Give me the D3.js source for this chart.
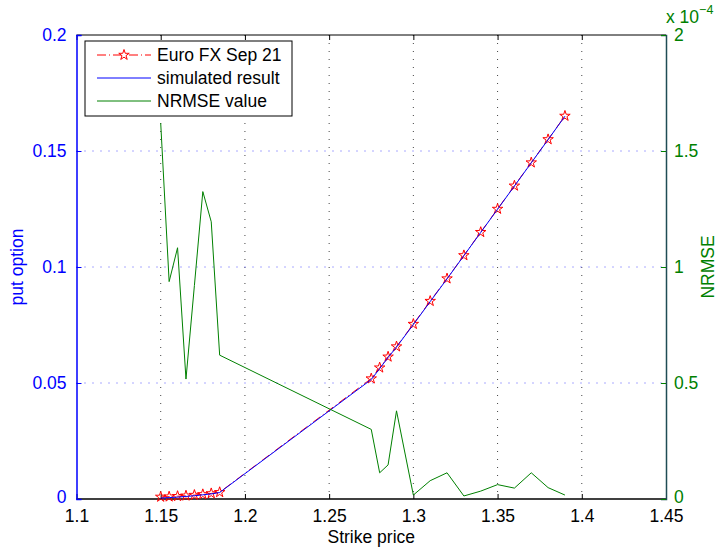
<!DOCTYPE html>
<html><head><meta charset="utf-8">
<script src="https://cdn.jsdelivr.net/npm/d3@7"></script>
<style>
body{margin:0;background:#fff;}
text{font-family:"Liberation Sans",Arial,Helvetica,sans-serif;}
</style></head>
<body><svg id="c" width="717" height="552"></svg>
<script>
// ---- data ----
const strikes   = [1.15,1.155,1.16,1.165,1.17,1.175,1.18,1.185,1.275,1.28,1.285,1.29,1.30,1.31,1.32,1.33,1.34,1.35,1.36,1.37,1.38,1.39];
const marketPut = [0.0009,0.0010,0.0012,0.0014,0.0017,0.0020,0.0024,0.0029,0.0519,0.0566,0.0613,0.0657,0.0754,0.0853,0.0950,0.1050,0.1150,0.1250,0.1350,0.1450,0.1550,0.1651];
const simPut    = [0.0004,0.0006,0.0008,0.0011,0.0014,0.0018,0.0022,0.0028,0.0515,0.0562,0.0610,0.0655,0.0752,0.0851,0.0949,0.1049,0.1149,0.1249,0.1349,0.1449,0.1549,0.1650];
const nrmse     = [1.62,0.937,1.083,0.517,0.92,1.325,1.195,0.62,0.30,0.113,0.147,0.38,0.017,0.079,0.113,0.013,0.034,0.062,0.047,0.113,0.049,0.017]; // x 1e-4
const xTicks  = [1.1,1.15,1.2,1.25,1.3,1.35,1.4,1.45];
const yTicks  = [0,0.05,0.1,0.15,0.2];
const y2Ticks = [0,0.5,1,1.5,2];
const legendLabels = ["Euro FX Sep 21","simulated result","NRMSE value"];

// ---- layout ----
const L=76.5,R=666,T=35,B=499;
const svg=d3.select("#c");
const x=d3.scaleLinear().domain([1.1,1.45]).range([L,R]);
const y=d3.scaleLinear().domain([0,0.2]).range([B,T]);
const y2=d3.scaleLinear().domain([0,2]).range([B,T]);
const FS=17.5;

// grid
const g=svg.append("g");
g.selectAll(".vg").data(xTicks.slice(1,-1)).join("line")
 .attr("x1",d=>x(d)).attr("x2",d=>x(d)).attr("y1",T).attr("y2",B)
 .attr("stroke","#444").attr("stroke-width",1).attr("stroke-dasharray","1,7");
g.selectAll(".hg").data(yTicks.slice(1,-1)).join("line")
 .attr("x1",L).attr("x2",R).attr("y1",d=>y(d)).attr("y2",d=>y(d))
 .attr("stroke","#5555ff").attr("stroke-width",1).attr("stroke-dasharray","1,7");

// box top / bottom
svg.append("line").attr("x1",L).attr("x2",R).attr("y1",T).attr("y2",T).attr("stroke","#000");
svg.append("line").attr("x1",L).attr("x2",R).attr("y1",B).attr("y2",B).attr("stroke","#000").attr("stroke-width",1.5);

// x axis (bottom)
const xa=svg.append("g").attr("transform",`translate(0,${B})`)
 .call(d3.axisBottom(x).tickValues(xTicks).tickSize(-5).tickPadding(11).tickFormat(d3.format("")));
xa.select(".domain").remove();
xa.selectAll("line").attr("stroke","#000");
xa.selectAll("text").attr("font-size",FS).attr("fill","#000").attr("font-family","Liberation Sans, Arial");
// top ticks
svg.append("g").attr("transform",`translate(0,${T})`)
 .call(d3.axisTop(x).tickValues(xTicks).tickSize(-5).tickFormat(""))
 .call(s=>{s.select(".domain").remove();s.selectAll("line").attr("stroke","#000");});

// left axis
const ya=svg.append("g").attr("transform",`translate(${L},0)`)
 .call(d3.axisLeft(y).tickValues(yTicks).tickSize(-5).tickPadding(10).tickFormat(d3.format("")));
ya.select(".domain").attr("stroke","#0000ff").attr("stroke-width",1.5);
ya.selectAll("line").attr("stroke","#0000ff");
ya.selectAll("text").attr("font-size",FS).attr("fill","#0000ff").attr("font-family","Liberation Sans, Arial")
 .attr("dy",d=>d===0?"0.2em":"0.32em");

// right axis
const y2a=svg.append("g").attr("transform",`translate(${R},0)`)
 .call(d3.axisRight(y2).tickValues(y2Ticks).tickSize(-5).tickPadding(8).tickFormat(d3.format("")));
y2a.select(".domain").attr("stroke","#1f4d55").attr("stroke-width",1.5);
y2a.selectAll("line").attr("stroke","#008000");
y2a.selectAll("text").attr("font-size",FS).attr("fill","#008000").attr("font-family","Liberation Sans, Arial")
 .attr("dy",d=>d===0?"0.2em":"0.32em");

// axis titles
svg.append("text").attr("x",(L+R)/2).attr("y",543).attr("text-anchor","middle")
 .attr("font-size",FS).attr("fill","#000").text("Strike price");
svg.append("text").attr("transform",`translate(23,${(T+B)/2}) rotate(-90)`).attr("text-anchor","middle")
 .attr("font-size",FS).attr("fill","#0000ff").text("put option");
svg.append("text").attr("transform",`translate(714,${(T+B)/2}) rotate(-90)`).attr("text-anchor","middle")
 .attr("font-size",FS).attr("fill","#008000").text("NRMSE");
// exponent
const ex=svg.append("text").attr("x",666).attr("y",23).attr("font-size",FS).attr("fill","#008000");
ex.append("tspan").text("x 10");
ex.append("tspan").attr("dy",-9).attr("font-size",12.5).text("−4");

// series
const lineP=d3.line().x((d,i)=>x(strikes[i])).y(d=>y(d));
svg.append("path").datum(marketPut).attr("d",lineP).attr("fill","none")
 .attr("stroke","#ff0000").attr("stroke-width",1).attr("stroke-dasharray","9,3,1,3");
const star=d3.symbol().type(d3.symbolStar).size(34);
svg.selectAll(".st").data(marketPut).join("path")
 .attr("transform",(d,i)=>`translate(${x(strikes[i])},${y(d)})`)
 .attr("d",star).attr("fill","none").attr("stroke","#ff0000").attr("stroke-width",1);
svg.append("path").datum(simPut).attr("d",lineP).attr("fill","none")
 .attr("stroke","#0000ff").attr("stroke-width",1);
const lineN=d3.line().x((d,i)=>x(strikes[i])).y(d=>y2(d));
svg.append("path").datum(nrmse).attr("d",lineN).attr("fill","none")
 .attr("stroke","#008000").attr("stroke-width",1);

// legend
const lg=svg.append("g");
lg.append("rect").attr("x",85).attr("y",41).attr("width",207).attr("height",75)
 .attr("fill","#fff").attr("stroke","#000").attr("stroke-width",1);
const rowsY=[55,78,101];
const styles=[{c:"#ff0000",dash:"9,3,1,3"},{c:"#0000ff",dash:null},{c:"#008000",dash:null}];
legendLabels.forEach((lab,i)=>{
  const ln=lg.append("line").attr("x1",97).attr("x2",151).attr("y1",rowsY[i]).attr("y2",rowsY[i])
   .attr("stroke",styles[i].c).attr("stroke-width",1);
  if(styles[i].dash) ln.attr("stroke-dasharray",styles[i].dash);
  lg.append("text").attr("x",157).attr("y",rowsY[i]+6).attr("font-size",FS).attr("fill","#000").text(lab);
});
lg.append("path").attr("transform",`translate(124,${rowsY[0]})`).attr("d",star)
 .attr("fill","#fff").attr("stroke","#ff0000");
</script></body></html>
